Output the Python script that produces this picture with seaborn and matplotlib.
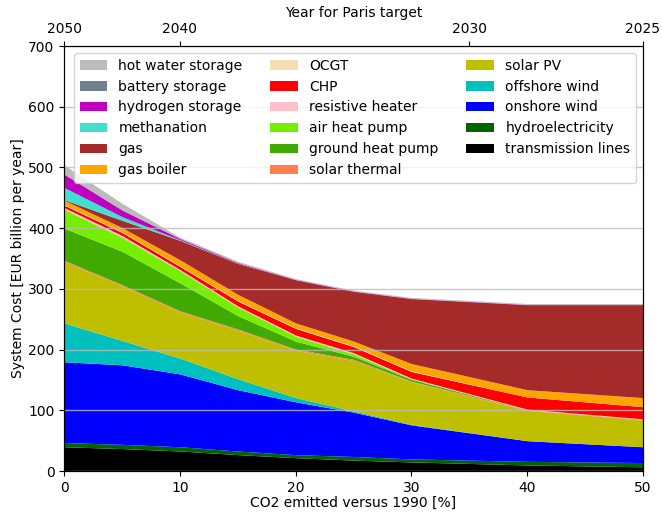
import numpy as np
import pandas as pd
import matplotlib
matplotlib.use('Agg')
import matplotlib.pyplot as plt
import seaborn as sns

# CO2 reduction levels (x axis) and cost per technology, EUR billion per year
co2_levels = [0, 5, 10, 15, 20, 25, 30, 40, 50]

transmission_lines = [40, 37, 33, 27, 22, 18, 15, 10, 7]
hydroelectricity = [7, 7, 7, 6, 5, 6, 5, 6, 7]
onshore_wind = [133, 131, 120, 101, 87, 73, 56, 34, 26]
offshore_wind = [64, 40, 26, 18, 7, 2, 1, 0, 0]
solar_pv = [101, 90, 76, 80, 78, 83, 70, 50, 44]
solar_thermal = [2, 2, 2, 2, 2, 2, 1, 1, 1]
ground_heat_pump = [53, 55, 46, 22, 13, 5, 3, 0, 0]
air_heat_pump = [31, 23, 20, 14, 8, 4, 1, 0, 0]
resistive_heater = [3, 3, 2, 2, 2, 2, 1, 1, 1]
chp = [4, 5, 5, 8, 11, 10, 11, 20, 20]
ocgt = [1, 1, 1, 1, 1, 1, 1, 0, 0]
gas_boiler = [7, 7, 10, 10, 8, 8, 12, 12, 15]
gas = [1, 12, 32, 51, 71, 82, 107, 140, 153]
methanation = [20, 6, 1, 0.5, 0, 0, 0, 0, 0]
hydrogen_storage = [22, 11, 2, 1, 0.5, 0.5, 0.5, 0.5, 0.5]
battery_storage = [0, 0, 0, 0, 0, 0, 0, 0, 0]
hot_water_storage = [15, 11, 2, 2, 1.5, 1.5, 1.5, 1.5, 1.5]

# top axis: year for Paris target
paris_ticks = [0, 10, 35, 50]
paris_labels = ['2050', '2040', '2030', '2025']

# stacking order, bottom first
costs = pd.DataFrame({
    'transmission lines': transmission_lines,
    'hydroelectricity': hydroelectricity,
    'onshore wind': onshore_wind,
    'offshore wind': offshore_wind,
    'solar PV': solar_pv,
    'solar thermal': solar_thermal,
    'ground heat pump': ground_heat_pump,
    'air heat pump': air_heat_pump,
    'resistive heater': resistive_heater,
    'CHP': chp,
    'OCGT': ocgt,
    'gas boiler': gas_boiler,
    'gas': gas,
    'methanation': methanation,
    'hydrogen storage': hydrogen_storage,
    'battery storage': battery_storage,
    'hot water storage': hot_water_storage,
}, index=co2_levels)

COLORS = {
    'transmission lines': '#000000',
    'hydroelectricity': '#006400',
    'onshore wind': '#0000ff',
    'offshore wind': '#00bfbf',
    'solar PV': '#bfbf00',
    'solar thermal': '#ff7f50',
    'ground heat pump': '#40aa00',
    'air heat pump': '#76ee00',
    'resistive heater': '#ffc0cb',
    'CHP': '#ff0000',
    'OCGT': '#f5deb3',
    'gas boiler': '#ffa500',
    'gas': '#a52a2a',
    'methanation': '#40e0d0',
    'hydrogen storage': '#bf00bf',
    'battery storage': '#708090',
    'hot water storage': '#bbbbbb',
}

sns.set_style('ticks')
plt.rcParams['font.family'] = ['DejaVu Sans']
plt.rcParams['text.color'] = 'black'
plt.rcParams['axes.labelcolor'] = 'black'
plt.rcParams['axes.edgecolor'] = 'black'
plt.rcParams['xtick.color'] = 'black'
plt.rcParams['ytick.color'] = 'black'
plt.rcParams['xtick.major.size'] = 3.5
plt.rcParams['ytick.major.size'] = 3.5
plt.rcParams['font.size'] = 10

fig, ax = plt.subplots(figsize=(6.62, 5.12), dpi=100)
fig.subplots_adjust(left=0.097, right=0.971, bottom=0.080, top=0.910)

palette = [COLORS[c] for c in costs.columns]
ax.stackplot(costs.index, costs.T.values, labels=costs.columns,
             colors=palette, linewidth=0)

ax.set_xlim(0, 50)
ax.set_ylim(0, 700)
ax.set_xlabel('CO2 emitted versus 1990 [%]', labelpad=0.5)
ax.set_ylabel('System Cost [EUR billion per year]', labelpad=2)
ax.grid(True, axis='y', color='#bbbbbb', linewidth=1, alpha=0.8)
ax.set_axisbelow(False)
ax.tick_params(labelsize=10)

handles, labels = ax.get_legend_handles_labels()
ax.legend(handles[::-1], labels[::-1], loc='upper right', ncol=3,
          frameon=True, fontsize=10)

top = ax.twiny()
top.set_xlim(ax.get_xlim())
top.set_xticks(paris_ticks)
top.set_xticklabels(paris_labels)
top.set_xlabel('Year for Paris target')
top.tick_params(labelsize=10)

fig.savefig('out.png', dpi=100)
